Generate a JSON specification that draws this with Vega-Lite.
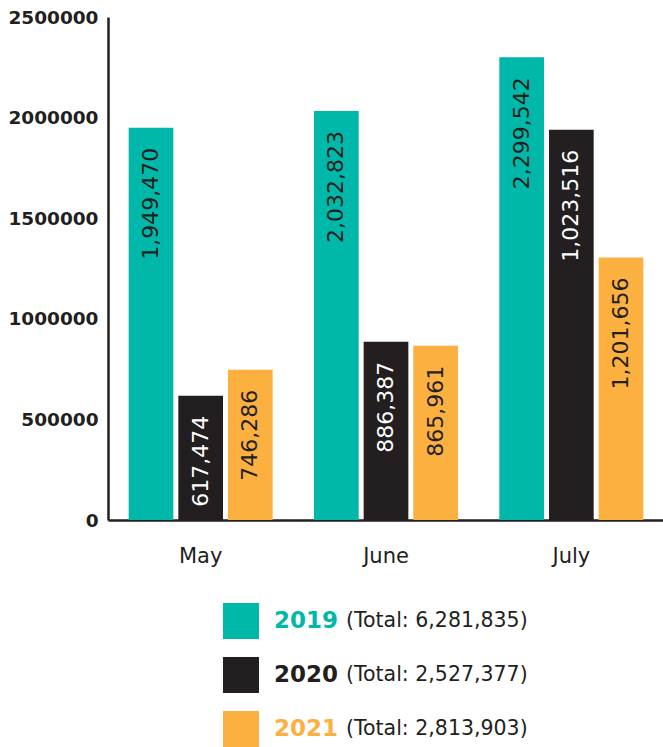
{
  "$schema": "https://vega.github.io/schema/vega-lite/v6.json",
  "background": "white",
  "padding": {"left": 7, "top": 8, "right": 0, "bottom": 0},
  "config": {"view": {"stroke": null}, "font": "DejaVu Sans"},
  "spacing": 36,
  "vconcat": [
    {
      "width": 556,
      "height": 503,
      "data": {
        "values": [
          {"month": "May", "year": "2019", "value": 1949470, "label": "1,949,470"},
          {"month": "May", "year": "2020", "value": 617474, "label": "617,474"},
          {"month": "May", "year": "2021", "value": 746286, "label": "746,286"},
          {"month": "June", "year": "2019", "value": 2032823, "label": "2,032,823"},
          {"month": "June", "year": "2020", "value": 886387, "label": "886,387"},
          {"month": "June", "year": "2021", "value": 865961, "label": "865,961"},
          {"month": "July", "year": "2019", "value": 2299542, "label": "2,299,542"},
          {"month": "July", "year": "2020", "value": 1940000, "label": "1,023,516"},
          {"month": "July", "year": "2021", "value": 1305000, "label": "1,201,656"}
        ]
      },
      "encoding": {
        "x": {
          "field": "month", "type": "nominal", "sort": ["May", "June", "July"],
          "scale": {"paddingInner": 0.223, "paddingOuter": 0.1115},
          "axis": {"title": null, "labelAngle": 0, "ticks": false, "labelPadding": 25, "labelFontSize": 21, "labelColor": "#231f20", "domainColor": "#231f20", "domainWidth": 2.5}
        },
        "xOffset": {"field": "year", "type": "nominal", "scale": {"paddingInner": 0.1, "paddingOuter": 0}},
        "y": {
          "field": "value", "type": "quantitative",
          "scale": {"domain": [0, 2500000], "nice": false},
          "axis": {"title": null, "values": [0, 500000, 1000000, 1500000, 2000000, 2500000], "format": "d", "grid": false, "ticks": false, "labelPadding": 10, "labelFontSize": 18.5, "labelFontWeight": "bold", "labelColor": "#231f20", "domainColor": "#231f20", "domainWidth": 2.5}
        }
      },
      "layer": [
        {
          "mark": {"type": "bar"},
          "encoding": {
            "color": {"field": "year", "type": "nominal", "scale": {"domain": ["2019", "2020", "2021"], "range": ["#00b8a9", "#231f20", "#fbb040"]}, "legend": null}
          }
        },
        {
          "mark": {"type": "text", "angle": 270, "align": "right", "baseline": "middle", "dx": -20, "fontSize": 22, "fontWeight": 500},
          "encoding": {
            "text": {"field": "label"},
            "color": {"condition": {"test": "datum.year === '2020'", "value": "#ffffff"}, "value": "#231f20"}
          }
        }
      ]
    },
    {
      "width": 266,
      "height": 146,
      "data": {
        "values": [
          {"year": "2019", "total": "(Total: 6,281,835)"},
          {"year": "2020", "total": "(Total: 2,527,377)"},
          {"year": "2021", "total": "(Total: 2,813,903)"}
        ]
      },
      "encoding": {
        "y": {"field": "year", "type": "nominal", "axis": null, "scale": {"padding": 0.35}}
      },
      "layer": [
        {
          "mark": {"type": "square", "size": 1296, "opacity": 1, "filled": true},
          "encoding": {
            "color": {"field": "year", "type": "nominal", "scale": {"domain": ["2019", "2020", "2021"], "range": ["#00b8a9", "#231f20", "#fbb040"]}, "legend": null}
          }
        },
        {
          "mark": {"type": "text", "align": "left", "baseline": "middle", "dx": 33, "fontSize": 23, "fontWeight": "bold"},
          "encoding": {
            "text": {"field": "year"},
            "color": {"field": "year", "type": "nominal", "scale": {"domain": ["2019", "2020", "2021"], "range": ["#00b8a9", "#231f20", "#fbb040"]}, "legend": null}
          }
        },
        {
          "mark": {"type": "text", "align": "left", "baseline": "middle", "dx": 105, "fontSize": 20.5, "color": "#231f20"},
          "encoding": {"text": {"field": "total"}}
        }
      ]
    }
  ]
}
